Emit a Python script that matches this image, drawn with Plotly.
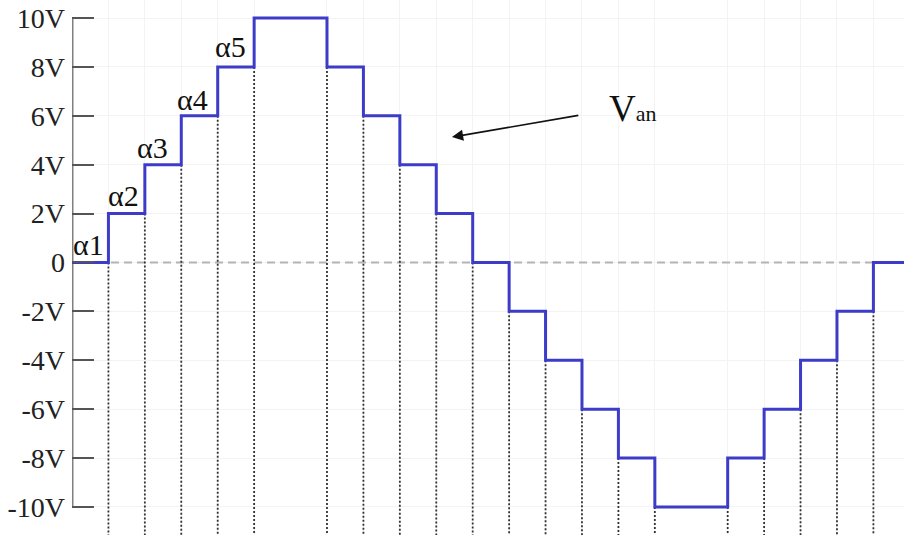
import plotly.graph_objects as go

# --- data ---
transition_t = [1, 2, 3, 4, 5, 7, 8, 9, 10, 11, 12, 13, 14, 15, 16, 18, 19, 20, 21, 22]
levels = [0, 2, 4, 6, 8, 10, 8, 6, 4, 2, 0, -2, -4, -6, -8, -10, -8, -6, -4, -2, 0]
t_end = 22.84
tick_vals = [10, 8, 6, 4, 2, 0, -2, -4, -6, -8, -10]
tick_text = ["10V", "8V", "6V", "4V", "2V", "0", "-2V", "-4V", "-6V", "-8V", "-10V"]
alpha_labels = ["α1", "α2", "α3", "α4", "α5"]
alpha_x = [0.45, 1.4, 2.2, 3.3, 4.34]
alpha_y = [0.75, 2.75, 4.7, 6.65, 8.85]

y_bottom = -11.15
y_top = 10.74

fig = go.Figure()

# zero dashed reference line
fig.add_trace(go.Scatter(x=[0, t_end], y=[0, 0], mode="lines",
                         line=dict(color="#b4b4b4", width=2, dash="8px,5px"),
                         hoverinfo="skip", showlegend=False))

# vertical dotted lines from the lower level at each transition
for i, t in enumerate(transition_t):
    low = min(levels[i], levels[i + 1])
    fig.add_trace(go.Scatter(x=[t, t], y=[low, y_bottom - 1], mode="lines",
                             line=dict(color="#333333", width=1.8, dash="2px,2px"),
                             hoverinfo="skip", showlegend=False))

# y axis line
fig.add_trace(go.Scatter(x=[0, 0], y=[min(tick_vals), max(tick_vals)], mode="lines",
                         line=dict(color="#808080", width=3),
                         hoverinfo="skip", showlegend=False))

# staircase waveform
xs = [0] + transition_t + [t_end]
ys = levels + [levels[-1]]
fig.add_trace(go.Scatter(x=xs, y=ys, mode="lines", line_shape="hv",
                         line=dict(color="#3c3cc8", width=3),
                         hoverinfo="skip", showlegend=False))

for lab, ax_, ay_ in zip(alpha_labels, alpha_x, alpha_y):
    fig.add_annotation(x=ax_, y=ay_, text=lab, showarrow=False,
                       font=dict(family="Liberation Serif", size=30, color="#111"))

# Van label and arrow
fig.add_annotation(x=15.4, y=6.3, text="V<span style='font-size:22px'>an</span>",
                   showarrow=False,
                   font=dict(family="Liberation Serif", size=37, color="#111"))
fig.add_annotation(x=10.43, y=5.13, ax=13.94, ay=6.03, axref="x", ayref="y",
                   text="", showarrow=True, arrowhead=2, arrowsize=1.4,
                   arrowwidth=1.6, arrowcolor="#111")

fig.update_layout(
    width=904, height=535,
    margin=dict(l=72, r=0, t=0, b=0, autoexpand=False),
    paper_bgcolor="white", plot_bgcolor="white",
    xaxis=dict(range=[0, t_end], tickvals=transition_t, showticklabels=False,
               ticks="", showgrid=True, gridcolor="#f3f3f3", zeroline=False,
               showline=False, fixedrange=True, automargin=False),
    yaxis=dict(range=[y_bottom, y_top], tickvals=tick_vals, ticktext=tick_text,
               ticks="inside", ticklen=22, tickwidth=2, tickcolor="#555",
               showgrid=True, gridcolor="#f3f3f3", zeroline=False, showline=False,
               tickfont=dict(family="Liberation Serif", size=28, color="#222"),
               ticklabelstandoff=6, ticklabeloverflow="allow", fixedrange=True,
               automargin=False),
)

fig.write_html("out.html",
               config={"displayModeBar": False, "staticPlot": True},
               post_script="document.body.style.margin='0';document.body.style.overflow='hidden';")
